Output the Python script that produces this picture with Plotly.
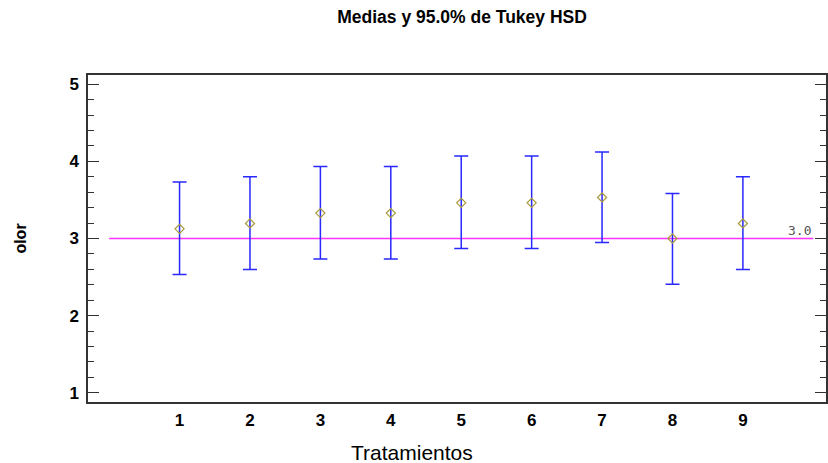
import plotly.graph_objects as go

tratamientos = [1, 2, 3, 4, 5, 6, 7, 8, 9]
medias = [3.125, 3.195, 3.33, 3.33, 3.462, 3.462, 3.532, 3.0, 3.195]
inferior = [2.533, 2.598, 2.735, 2.735, 2.870, 2.870, 2.948, 2.407, 2.598]
superior = [3.734, 3.800, 3.935, 3.935, 4.071, 4.071, 4.123, 3.584, 3.800]
ref_valor = 3.0
ref_x = [0, 10]
y_ticks = [1, 2, 3, 4, 5]

err_plus = [s - m for s, m in zip(superior, medias)]
err_minus = [m - i for m, i in zip(medias, inferior)]

fig = go.Figure()

fig.add_trace(go.Scatter(
    x=ref_x, y=[ref_valor, ref_valor], mode="lines",
    line=dict(color="#ff33ff", width=1.6), hoverinfo="skip", showlegend=False,
))

fig.add_trace(go.Scatter(
    x=tratamientos, y=medias, mode="markers",
    marker=dict(symbol="diamond-open", size=7, color="#a89a3c", line=dict(width=1.2)),
    error_y=dict(type="data", symmetric=False, array=err_plus, arrayminus=err_minus,
                 color="rgb(40,40,255)", thickness=1.5, width=7),
    showlegend=False,
))

fig.add_annotation(
    x=ref_x[1], y=ref_valor, xref="x", yref="y", text=f"{ref_valor:.1f}",
    showarrow=False, xanchor="right", yanchor="bottom", yshift=-1,
    font=dict(family="DejaVu Sans Mono", size=13, color="#555555"),
)

# axis titles
fig.add_annotation(
    x=0.439, y=-0.153, xref="paper", yref="paper", text="Tratamientos",
    showarrow=False, xanchor="center", yanchor="middle",
    font=dict(family="Liberation Sans", size=21, color="black"),
)
fig.add_annotation(
    x=-0.092, y=0.5, xref="paper", yref="paper", text="<b>olor</b>", textangle=-90,
    showarrow=False, xanchor="center", yanchor="middle",
    font=dict(family="Liberation Sans", size=16, color="black"),
)

fig.update_layout(
    width=828, height=463,
    margin=dict(l=88, r=0, t=75, b=61),
    paper_bgcolor="white", plot_bgcolor="white",
    title=dict(text="<b>Medias y 95.0% de Tukey HSD</b>", x=0.558, xanchor="center",
               y=0.963, yanchor="middle",
               font=dict(family="Liberation Sans", size=17.5, color="black")),
    font=dict(family="Liberation Sans", color="black"),
)

fig.update_xaxes(
    range=[-0.30, 10.18], tickmode="array", tickvals=tratamientos,
    ticktext=[f"<b>{t}</b>" for t in tratamientos],
    tickfont=dict(family="Liberation Sans", size=17, color="black"),
    ticks="", showgrid=False, zeroline=False, ticklabelstandoff=2,
    showline=True, linecolor="#333333", linewidth=1.5, mirror=True,
)

fig.update_yaxes(
    range=[0.88, 5.12], tickmode="array", tickvals=y_ticks,
    ticktext=[f"<b>{t}</b>" for t in y_ticks],
    tickfont=dict(family="Liberation Sans", size=17, color="black"),
    ticks="inside", ticklen=11, tickcolor="#333333", tickwidth=1,
    ticklabelstandoff=4,
    minor=dict(dtick=0.2, ticks="inside", ticklen=6, tickcolor="#333333", tickwidth=1,
               showgrid=False),
    showgrid=False, zeroline=False,
    showline=True, linecolor="#333333", linewidth=1.5, mirror="ticks",
)

fig.write_html("out.html")
